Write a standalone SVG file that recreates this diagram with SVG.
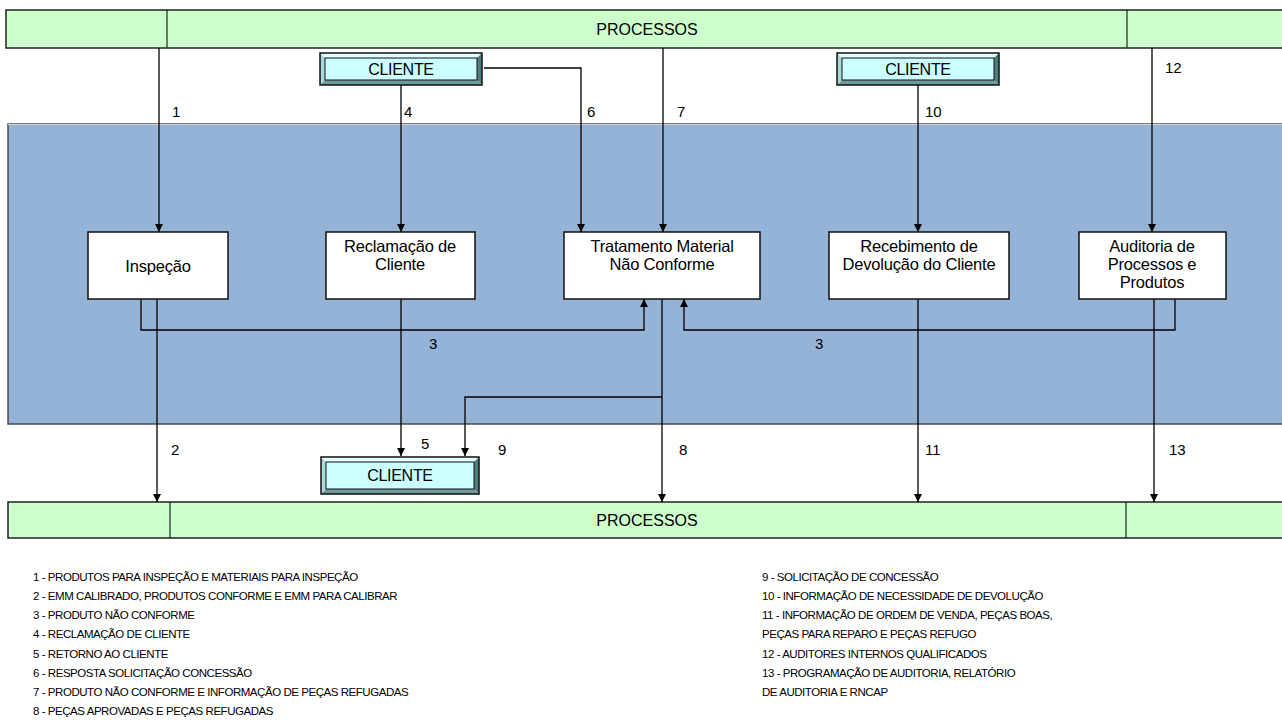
<svg xmlns="http://www.w3.org/2000/svg" width="1282" height="725" viewBox="0 0 1282 725">
  <style>
    text { font-family: "Liberation Sans", Arial, sans-serif; fill: #000; }
    .bar { fill: #CCFFCC; stroke: #222; stroke-width: 1.5; }
    .div { stroke: #222; stroke-width: 1.2; }
    .node { fill: #FFFFFF; stroke: #111; stroke-width: 1.5; }
    .nt { font-size: 16.5px; text-anchor: middle; letter-spacing: -0.2px; }
    .num { font-size: 15px; }
    .big { font-size: 16px; text-anchor: middle; }
    .cl { font-size: 16px; text-anchor: middle; letter-spacing: -0.3px; }
    .leg { font-size: 11.5px; letter-spacing: -0.45px; }
    .wire { fill: none; stroke: #000; stroke-width: 1.3; }
    .bev-t { fill: #E4FFFF; }
    .bev-l { fill: #A8D8D8; }
    .bev-r { fill: #4E7F7F; }
    .bev-b { fill: #6E9C9C; }
    .face { fill: #CCFFFF; stroke: #111; stroke-width: 1; }
    .frame { fill: none; stroke: #111; stroke-width: 1.5; }
  </style>
  <defs>
    <marker id="ah" viewBox="0 0 10 10" refX="10" refY="5" markerWidth="8" markerHeight="10" markerUnits="userSpaceOnUse" orient="auto">
      <path d="M0,0 L10,5 L0,10 z" fill="#000"/>
    </marker>
  </defs>

  <!-- blue process area -->
  <rect x="8" y="124" width="1280" height="300" fill="#95B3D7" stroke="#4a4a4a" stroke-width="1.5"/>
  <line x1="8" y1="124.5" x2="1282" y2="124.5" stroke="#d8d8d8" stroke-width="1"/>

  <!-- top PROCESSOS bar -->
  <g id="processos-top">
    <rect class="bar" x="6" y="10" width="1282" height="38"/>
    <line class="div" x1="167" y1="10" x2="167" y2="48"/>
    <line class="div" x1="1127" y1="10" x2="1127" y2="48"/>
    <text class="big" x="647" y="35">PROCESSOS</text>
  </g>

  <!-- bottom PROCESSOS bar -->
  <g id="processos-bottom">
    <rect class="bar" x="8" y="502" width="1282" height="36"/>
    <line class="div" x1="170" y1="502" x2="170" y2="538"/>
    <line class="div" x1="1126" y1="502" x2="1126" y2="538"/>
    <text class="big" x="647" y="526">PROCESSOS</text>
  </g>

  <!-- connectors -->
  <g id="connectors">
    <!-- 1 -->
    <path class="wire" d="M159,48 V232" marker-end="url(#ah)"/>
    <!-- 4 -->
    <path class="wire" d="M401,85 V232" marker-end="url(#ah)"/>
    <!-- 6 -->
    <path class="wire" d="M484,68 H581 V232" marker-end="url(#ah)"/>
    <!-- 7 -->
    <path class="wire" d="M663,48 V232" marker-end="url(#ah)"/>
    <!-- 10 -->
    <path class="wire" d="M918,85 V232" marker-end="url(#ah)"/>
    <!-- 12 -->
    <path class="wire" d="M1152,48 V232" marker-end="url(#ah)"/>
    <!-- 3 (left) -->
    <path class="wire" d="M141,299 V330 H644 V299" marker-end="url(#ah)"/>
    <!-- 3 (right) -->
    <path class="wire" d="M1175,299 V330 H684 V299" marker-end="url(#ah)"/>
    <!-- 2 -->
    <path class="wire" d="M157,299 V502" marker-end="url(#ah)"/>
    <!-- 5 -->
    <path class="wire" d="M401,299 V456" marker-end="url(#ah)"/>
    <!-- 9 -->
    <path class="wire" d="M662,397 H465 V456" marker-end="url(#ah)"/>
    <!-- 8 -->
    <path class="wire" d="M662,299 V502" marker-end="url(#ah)"/>
    <!-- 11 -->
    <path class="wire" d="M918,299 V502" marker-end="url(#ah)"/>
    <!-- 13 -->
    <path class="wire" d="M1154,299 V502" marker-end="url(#ah)"/>
  </g>

  <!-- flow numbers -->
  <g id="flow-labels" class="num">
    <text x="172" y="117">1</text>
    <text x="404" y="117">4</text>
    <text x="587" y="117">6</text>
    <text x="677" y="117">7</text>
    <text x="925" y="117">10</text>
    <text x="1165" y="73">12</text>
    <text x="429" y="349">3</text>
    <text x="815" y="349">3</text>
    <text x="171" y="455">2</text>
    <text x="421" y="449">5</text>
    <text x="498" y="455">9</text>
    <text x="679" y="455">8</text>
    <text x="925" y="455">11</text>
    <text x="1169" y="455">13</text>
  </g>

  <!-- client boxes (bevelled) -->
  <g id="cliente-1">
    <polygon class="bev-t" points="320,53 482,53 477,58 325,58"/>
    <polygon class="bev-l" points="320,53 325,58 325,80 320,85"/>
    <polygon class="bev-r" points="482,53 482,85 477,80 477,58"/>
    <polygon class="bev-b" points="320,85 482,85 477,80 325,80"/>
    <rect class="face" x="325" y="58" width="152" height="22"/>
    <rect class="frame" x="320" y="53" width="162" height="32"/>
    <text class="cl" x="401" y="75">CLIENTE</text>
  </g>

  <g id="cliente-2">
    <polygon class="bev-t" points="837,53 999,53 994,58 842,58"/>
    <polygon class="bev-l" points="837,53 842,58 842,80 837,85"/>
    <polygon class="bev-r" points="999,53 999,85 994,80 994,58"/>
    <polygon class="bev-b" points="837,85 999,85 994,80 842,80"/>
    <rect class="face" x="842" y="58" width="152" height="22"/>
    <rect class="frame" x="837" y="53" width="162" height="32"/>
    <text class="cl" x="918" y="75">CLIENTE</text>
  </g>

  <g id="cliente-3">
    <polygon class="bev-t" points="321,457 479,457 474,462 326,462"/>
    <polygon class="bev-l" points="321,457 326,462 326,489 321,494"/>
    <polygon class="bev-r" points="479,457 479,494 474,489 474,462"/>
    <polygon class="bev-b" points="321,494 479,494 474,489 326,489"/>
    <rect class="face" x="326" y="462" width="148" height="27"/>
    <rect class="frame" x="321" y="457" width="158" height="37"/>
    <text class="cl" x="400" y="481">CLIENTE</text>
  </g>

  <!-- process nodes -->
  <g id="inspecao">
    <rect class="node" x="88" y="232" width="140" height="67"/>
    <text class="nt" x="158" y="272">Inspeção</text>
  </g>

  <g id="reclamacao">
    <rect class="node" x="326" y="232" width="149" height="67"/>
    <text class="nt" x="400" y="252">Reclamação de</text>
    <text class="nt" x="400" y="270">Cliente</text>
  </g>

  <g id="tratamento">
    <rect class="node" x="564" y="232" width="196" height="67"/>
    <text class="nt" x="662" y="252">Tratamento Material</text>
    <text class="nt" x="662" y="270">Não Conforme</text>
  </g>

  <g id="recebimento">
    <rect class="node" x="829" y="232" width="180" height="67"/>
    <text class="nt" x="919" y="252">Recebimento de</text>
    <text class="nt" x="919" y="270">Devolução do Cliente</text>
  </g>

  <g id="auditoria">
    <rect class="node" x="1079" y="232" width="147" height="67"/>
    <text class="nt" x="1152" y="252">Auditoria de</text>
    <text class="nt" x="1152" y="270">Processos e</text>
    <text class="nt" x="1152" y="288">Produtos</text>
  </g>

  <!-- legend -->
  <g id="legend" class="leg">
    <text x="33" y="581">1 - PRODUTOS PARA INSPEÇÃO E MATERIAIS PARA INSPEÇÃO</text>
    <text x="33" y="600">2 - EMM CALIBRADO, PRODUTOS CONFORME E  EMM PARA CALIBRAR</text>
    <text x="33" y="619">3 - PRODUTO NÃO CONFORME</text>
    <text x="33" y="638">4 - RECLAMAÇÃO DE CLIENTE</text>
    <text x="33" y="658">5 - RETORNO AO CLIENTE</text>
    <text x="33" y="677">6 - RESPOSTA SOLICITAÇÃO CONCESSÃO</text>
    <text x="33" y="696">7 -  PRODUTO NÃO CONFORME E INFORMAÇÃO DE PEÇAS REFUGADAS</text>
    <text x="33" y="715">8 - PEÇAS APROVADAS E PEÇAS REFUGADAS</text>
    <text x="762" y="581">9 - SOLICITAÇÃO DE CONCESSÃO</text>
    <text x="762" y="600">10 - INFORMAÇÃO DE NECESSIDADE DE DEVOLUÇÃO</text>
    <text x="762" y="619">11 - INFORMAÇÃO DE ORDEM DE VENDA, PEÇAS BOAS,</text>
    <text x="762" y="638">PEÇAS PARA REPARO E PEÇAS REFUGO</text>
    <text x="762" y="658">12 - AUDITORES INTERNOS QUALIFICADOS</text>
    <text x="762" y="677">13 - PROGRAMAÇÃO DE AUDITORIA, RELATÓRIO</text>
    <text x="762" y="696">DE AUDITORIA E RNCAP</text>
  </g>
</svg>
